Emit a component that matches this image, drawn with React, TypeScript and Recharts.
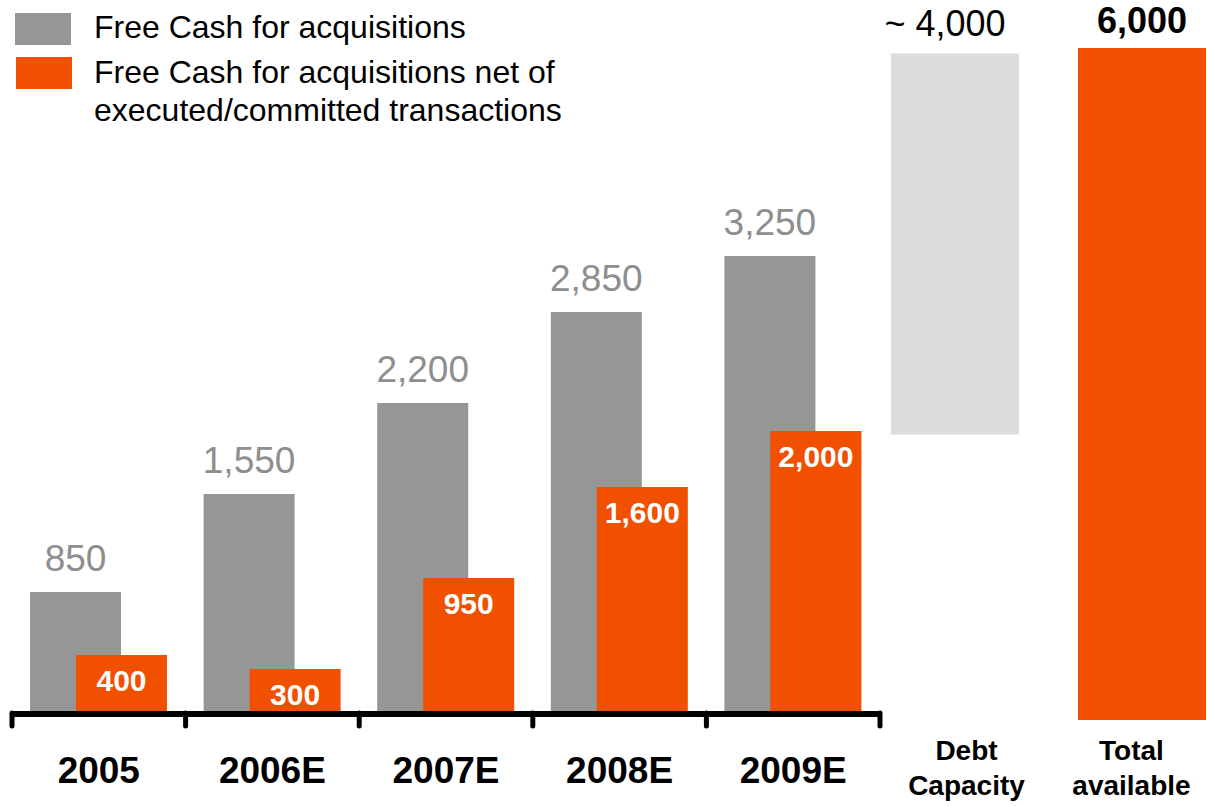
import { BarChart, Bar, XAxis, YAxis, LabelList, Cell } from 'recharts'

const years = ['2005', '2006E', '2007E', '2008E', '2009E']
const freeCash = [850, 1550, 2200, 2850, 3250]
const freeCashNet = [400, 300, 950, 1600, 2000]
const seriesNames = [
  'Free Cash for acquisitions',
  'Free Cash for acquisitions net of executed/committed transactions',
]

const totalsCategories = ['Debt Capacity', 'Total available']
const totalsRanges: [number, number][] = [
  [2550, 5950],
  [0, 6000],
]
const totalsLabels = ['~ 4,000', '6,000']

const GREY = '#969696'
const ORANGE = '#F05000'
const LIGHT_GREY = '#DCDCDC'
const FONT = '"Liberation Sans", Arial, sans-serif'

const yearData = years.map((year, i) => ({ year, freeCash: freeCash[i], net: freeCashNet[i] }))
const totalsData = totalsCategories.map((name, i) => ({
  name,
  range: totalsRanges[i],
  label: totalsLabels[i],
}))

const fmt = (v: any) => Number(v).toLocaleString('en-US')

// axis line with ticks on the category boundaries, label in the middle
function YearTick(props: any) {
  const { x, y, payload, index } = props
  const half = payload.offset || 86.8
  const isLast = index === years.length - 1
  return (
    <g>
      <line x1={x - half} x2={x + half} y1={y + 3} y2={y + 3} stroke="#000" strokeWidth={6} />
      <line x1={x - half} x2={x - half} y1={y + 2} y2={y + 15} stroke="#000" strokeWidth={5} strokeLinecap="round" />
      {isLast && (
        <line x1={x + half} x2={x + half} y1={y + 2} y2={y + 15} stroke="#000" strokeWidth={5} strokeLinecap="round" />
      )}
      <text x={x} y={y + 72} textAnchor="middle" fontSize={37} fontWeight="bold" fill="#000" fontFamily={FONT}>
        {payload.value}
      </text>
    </g>
  )
}

function TotalsTick(props: any) {
  const { x, y, payload, index } = props
  const [first, ...rest] = String(payload.value).split(' ')
  const tx = x + (index === 0 ? 12 : -10)
  return (
    <text textAnchor="middle" fontSize={28} fontWeight="bold" fill="#000" fontFamily={FONT}>
      <tspan x={tx} y={y + 40}>{first}</tspan>
      <tspan x={tx} y={y + 75}>{rest.join(' ')}</tspan>
    </text>
  )
}

function TotalsLabel(props: any) {
  const { x, y, width, value, index } = props
  const bold = index === 1
  return (
    <text
      x={x + width / 2 + (bold ? 0 : -10)}
      y={y - (bold ? 15 : 18)}
      textAnchor="middle"
      fontSize={36}
      fontWeight={bold ? 'bold' : 'normal'}
      fill="#000"
      fontFamily={FONT}
    >
      {value}
    </text>
  )
}

export default function App() {
  return (
    <div
      style={{
        position: 'absolute',
        left: 0,
        top: 0,
        width: 1208,
        height: 806,
        overflow: 'hidden',
        background: '#fff',
        fontFamily: FONT,
      }}
    >
      {/* legend */}
      <div style={{ position: 'absolute', left: 15, top: 13, width: 56, height: 32, background: GREY }} />
      <div style={{ position: 'absolute', left: 94, top: 8, fontSize: 32, lineHeight: '38px', color: '#000', whiteSpace: 'nowrap' }}>
        {seriesNames[0]}
      </div>
      <div style={{ position: 'absolute', left: 16, top: 57, width: 56, height: 32, background: ORANGE }} />
      <div style={{ position: 'absolute', left: 94, top: 53, width: 490, fontSize: 32, lineHeight: '38px', color: '#000' }}>
        {seriesNames[1]}
      </div>

      <div style={{ position: 'absolute', left: 0, top: 0 }}>
        <BarChart
          width={898}
          height={806}
          data={yearData}
          margin={{ top: 81, right: 18, bottom: 35, left: 12 }}
          barSize={91}
          barGap={-45}
        >
          <YAxis hide domain={[0, 4500]} />
          <XAxis
            dataKey="year"
            height={60}
            axisLine={false}
            tickLine={false}
            tickSize={0}
            tickMargin={0}
            interval={0}
            tick={<YearTick />}
          />
          <Bar dataKey="freeCash" name={seriesNames[0]} fill={GREY} isAnimationActive={false}>
            <LabelList dataKey="freeCash" position="top" offset={21} fill="#8E8E8E" fontSize={37} formatter={fmt} />
          </Bar>
          <Bar dataKey="net" name={seriesNames[1]} fill={ORANGE} isAnimationActive={false}>
            <LabelList
              dataKey="net"
              position="insideTop"
              offset={15}
              fill="#fff"
              fontSize={30}
              fontWeight="bold"
              formatter={fmt}
            />
          </Bar>
        </BarChart>
      </div>

      <div style={{ position: 'absolute', left: 861, top: 0 }}>
        <BarChart
          width={374}
          height={806}
          data={totalsData}
          margin={{ top: 48, right: 0, bottom: 26, left: 0 }}
          barSize={128}
        >
          <YAxis hide domain={[0, 6000]} />
          <XAxis
            dataKey="name"
            height={60}
            axisLine={false}
            tickLine={false}
            tickSize={0}
            tickMargin={0}
            interval={0}
            tick={<TotalsTick />}
          />
          <Bar dataKey="range" isAnimationActive={false}>
            {totalsData.map((d, i) => (
              <Cell key={d.name} fill={i === 0 ? LIGHT_GREY : ORANGE} />
            ))}
            <LabelList dataKey="label" content={<TotalsLabel />} />
          </Bar>
        </BarChart>
      </div>
    </div>
  )
}
